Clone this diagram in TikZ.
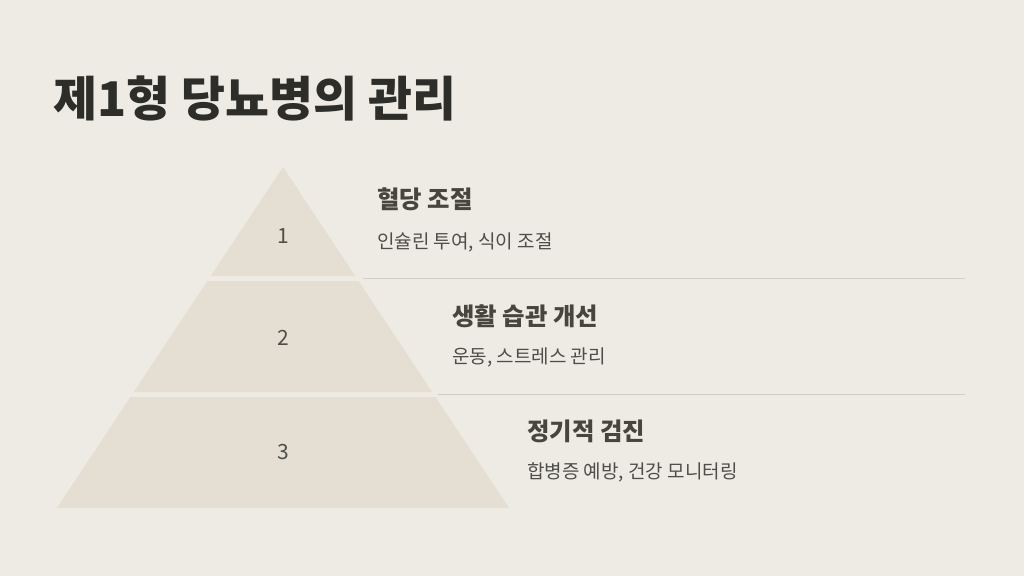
\documentclass[tikz,border=0pt]{standalone}
\usepackage{fontspec}
\usepackage{xcolor}
\usetikzlibrary{calc}
\newfontfamily\krfont{Noto Sans CJK KR}
\definecolor{bg}{HTML}{EEEBE4}
\definecolor{tierfill}{HTML}{E4DFD2}
\definecolor{rulecol}{HTML}{D2CEC4}
\definecolor{ink}{HTML}{2D2D29}
\definecolor{headcol}{HTML}{46463F}
\definecolor{subcol}{HTML}{4E4E48}
\tikzset{
  tier/.style={fill=tierfill, draw=none},
  sepline/.style={draw=rulecol, line width=1.2pt},
  num/.style={text=subcol, font=\krfont\fontsize{21}{25}\selectfont},
  head/.style={anchor=west, inner sep=0pt, text=headcol, font=\krfont\bfseries\fontsize{24.4}{28}\selectfont},
  desc/.style={anchor=west, inner sep=0pt, text=subcol, font=\krfont\fontsize{19}{22}\selectfont},
  titlelab/.style={anchor=west, inner sep=0pt, text=ink, font=\krfont\bfseries\fontsize{47.8}{54}\selectfont},
}
\begin{document}
\begin{tikzpicture}[x=1pt,y=-1pt]
  \fill[bg] (0,0) rectangle (1024,576);
  \useasboundingbox (0,0) rectangle (1024,576);

  \node[titlelab] (title) at (53,98) {제1형 당뇨병의 관리};

  % pyramid tiers
  \fill[tier] (283,167) -- (355.3,276) -- (210.7,276) -- cycle;
  \fill[tier] (207.4,281) -- (358.6,281) -- (432.2,392) -- (133.8,392) -- cycle;
  \fill[tier] (130.5,397) -- (435.5,397) -- (509.1,508) -- (56.9,508) -- cycle;

  \node[num] (n1) at (283,236) {1};
  \node[num] (n2) at (283,338) {2};
  \node[num] (n3) at (283,452) {3};

  % separators
  \coordinate (s1a) at (363,278.5);
  \coordinate (s1b) at (965,278.5);
  \coordinate (s2a) at (438,394.5);
  \coordinate (s2b) at (965,394.5);
  \draw[sepline] (s1a) -- (s1b);
  \draw[sepline] (s2a) -- (s2b);

  \node[head] (h1) at (377,199) {혈당 조절};
  \node[desc] (d1) at (377,242) {인슐린 투여, 식이 조절};
  \node[head] (h2) at (452,316) {생활 습관 개선};
  \node[desc] (d2) at (452,357) {운동, 스트레스 관리};
  \node[head] (h3) at (527,431) {정기적 검진};
  \node[desc] (d3) at (527,472) {합병증 예방, 건강 모니터링};
\end{tikzpicture}
\end{document}
